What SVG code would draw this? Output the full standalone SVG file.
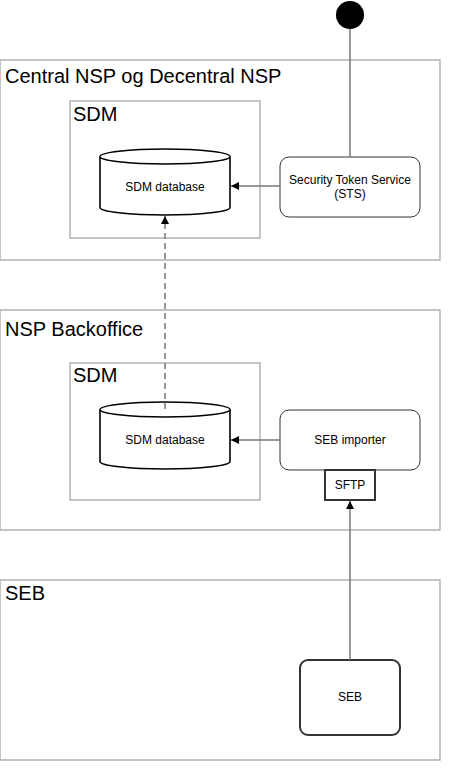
<svg xmlns="http://www.w3.org/2000/svg" width="460" height="780" viewBox="0 0 460 780">
<style>
.grp{fill:#fff;stroke:#b3b3b3;stroke-width:1.5}
.title{font-family:"Liberation Sans",Arial,sans-serif;font-size:20px;fill:#000}
.lbl{font-family:"Liberation Sans",Arial,sans-serif;font-size:12px;fill:#000;text-anchor:middle}
.cyl{fill:#fff;stroke:#000;stroke-width:1.6}
.rbox{fill:#fff;stroke:#333;stroke-width:1}
.con{fill:none;stroke:#777;stroke-width:1.5}
</style>
<defs>
<marker id="arr" markerWidth="9" markerHeight="9" refX="8" refY="4.5" orient="auto" markerUnits="userSpaceOnUse">
<path d="M0,0.5 L8,4.5 L0,8.5 Z" fill="#000"/>
</marker>
</defs>
<g id="central">
<rect class="grp" x="0" y="60" width="440" height="200"/>
<text class="title" x="5" y="83">Central NSP og Decentral NSP</text>
</g>
<g id="sdm1">
<rect class="grp" x="70" y="101" width="190" height="137"/>
<text class="title" x="73" y="121">SDM</text>
</g>
<g id="backoffice">
<rect class="grp" x="0" y="310" width="440" height="220"/>
<text class="title" x="5" y="336">NSP Backoffice</text>
</g>
<g id="sdm2">
<rect class="grp" x="70" y="363" width="190" height="137"/>
<text class="title" x="73" y="382">SDM</text>
</g>
<g id="seb-group">
<rect class="grp" x="0" y="580" width="440" height="180"/>
<text class="title" x="5" y="600">SEB</text>
</g>
<g id="start">
<circle cx="350" cy="15" r="14" fill="#000"/>
</g>
<g id="db1">
<path class="cyl" d="M100,156.5 A65,7.5 0 0 1 230,156.5 L230,207.5 A65,7.5 0 0 1 100,207.5 Z"/>
<path class="cyl" d="M100,156.5 A65,7.5 0 0 0 230,156.5" fill="none"/>
<text class="lbl" x="165" y="191">SDM database</text>
</g>
<g id="sts">
<rect class="rbox" x="280" y="157" width="140" height="60" rx="9"/>
<text class="lbl" x="350" y="184">Security Token Service</text>
<text class="lbl" x="350" y="198">(STS)</text>
</g>
<g id="db2">
<path class="cyl" d="M100,409.5 A65,7.5 0 0 1 230,409.5 L230,461.5 A65,7.5 0 0 1 100,461.5 Z"/>
<path class="cyl" d="M100,409.5 A65,7.5 0 0 0 230,409.5" fill="none"/>
<text class="lbl" x="165" y="444">SDM database</text>
</g>
<g id="seb-importer">
<rect class="rbox" x="280" y="410" width="140" height="60" rx="9"/>
<text class="lbl" x="350" y="444">SEB importer</text>
</g>
<g id="sftp">
<rect x="325" y="470" width="50" height="30" fill="#fff" stroke="#333" stroke-width="2"/>
<text class="lbl" x="350" y="489">SFTP</text>
</g>
<g id="seb">
<rect x="300" y="660" width="100" height="75" rx="8" fill="#fff" stroke="#333" stroke-width="2"/>
<text class="lbl" x="350" y="701">SEB</text>
</g>
<g id="connectors">
<line class="con" x1="350" y1="29" x2="350" y2="157"/>
<line class="con" x1="280" y1="186" x2="231" y2="186" marker-end="url(#arr)"/>
<line class="con" x1="280" y1="440" x2="231" y2="440" marker-end="url(#arr)"/>
<line class="con" x1="165" y1="409" x2="165" y2="216" stroke-dasharray="6,4" marker-end="url(#arr)"/>
<line class="con" x1="350" y1="660" x2="350" y2="501" marker-end="url(#arr)"/>
</g>
</svg>
